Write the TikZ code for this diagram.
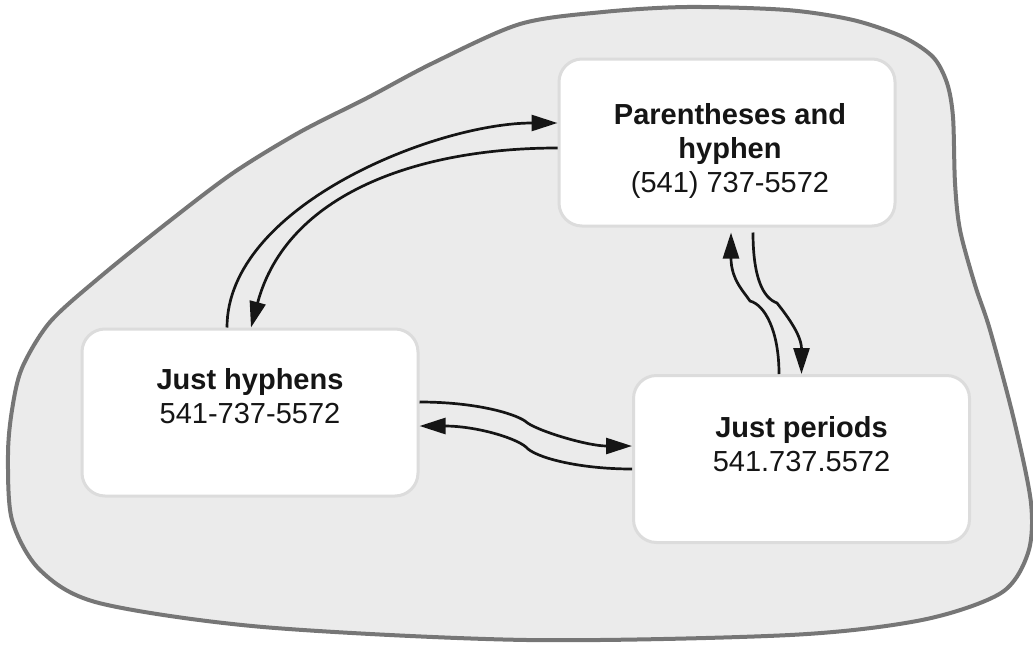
\documentclass[tikz,border=0pt]{standalone}
\usepackage{fontspec}
\setmainfont{Liberation Sans}
\usetikzlibrary{arrows.meta,positioning}
\definecolor{blobfill}{HTML}{EBEBEB}
\definecolor{blobline}{HTML}{767676}
\definecolor{boxline}{HTML}{DCDCDC}
\definecolor{ink}{HTML}{151515}
\tikzset{
	fmtbox/.style={draw=boxline, line width=3pt, fill=white, rounded corners=23pt,
		minimum width=336pt, minimum height=167pt, inner sep=0pt},
	fmttext/.style={align=center, inner sep=0pt, text=ink, font=\fontsize{29}{34}\selectfont},
	flow/.style={draw=ink, line width=2.7pt, -{Triangle[length=26pt,width=16pt]}}
}

\begin{document}
\begin{tikzpicture}[x=1pt,y=-1pt]
			%%%%% START %%%%%
			\useasboundingbox (0,0) rectangle (1033,645);
			
			% the cloud round everything
			\draw[blobline, fill=blobfill, line width=4pt] plot[smooth cycle, tension=0.5] coordinates {
				(8,455) (12,410) (22,368) (50,322) (100,277) (167,223) (233,173)
				(300,132) (367,98) (433,63) (520,24) (603,12) (687,7) (787,10)
				(853,20) (903,37) (933,57) (947,83) (953,117) (955,183) (960,230)
				(975,285) (990,330) (1014,420) (1031,503) (1028,553) (1001,593)
				(922,620) (790,635) (527,640) (263,627) (99,603) (40,570) (12,520)};
			
			% the three formats
			\node[fmtbox] (paren) at (727,142.5) {};
			\node[fmtbox] (hyph) at (250,412.5) {};
			\node[fmtbox] (peri) at (801.5,459) {};
			
			\node[fmttext, below=45.5pt of paren.north, xshift=3pt] (parentxt)
				{\textbf{Parentheses and}\\\textbf{hyphen}\\(541) 737-5572};
			\node[fmttext, below=40.5pt of hyph.north] (hyphtxt)
				{\textbf{Just hyphens}\\541-737-5572};
			\node[fmttext, below=42.5pt of peri.north] (peritxt)
				{\textbf{Just periods}\\541.737.5572};
			
			% hyphens <-> parentheses
			\draw[flow] ([xshift=-23pt]hyph.north) to[out=90, in=180, looseness=0.8] ([yshift=19.5pt]paren.west);
			\draw[flow] ([yshift=-5.5pt]paren.west) to[out=180, in=75] ([xshift=1pt]hyph.north);
			
			% periods <-> parentheses
			\draw[flow] ([xshift=-22.5pt]peri.north) .. controls +(0,-43) and +(15,4) .. (750,301)
				.. controls +(-6,-9) and +(0,47) .. ([xshift=4pt,yshift=-5pt]paren.south);
			\draw[flow] ([xshift=26pt,yshift=-5pt]paren.south) .. controls +(0,45) and +(-14,-5) .. (777,303)
				.. controls +(7,9) and +(0,-40) .. (peri.north);
			
			% hyphens <-> periods
			\draw[flow] ([yshift=10.5pt]hyph.east) .. controls +(55,0) and +(-12,-8) .. (525,421)
				.. controls +(9,9) and +(-45,0) .. ([yshift=13pt]peri.west);
			\draw[flow] ([yshift=-10pt]peri.west) .. controls +(-55,0) and +(8,10) .. (526,447)
				.. controls +(-12,-10) and +(55,0) .. ([yshift=-13.5pt]hyph.east);
			
			%%%%% END %%%%%
\end{tikzpicture}
\end{document}
